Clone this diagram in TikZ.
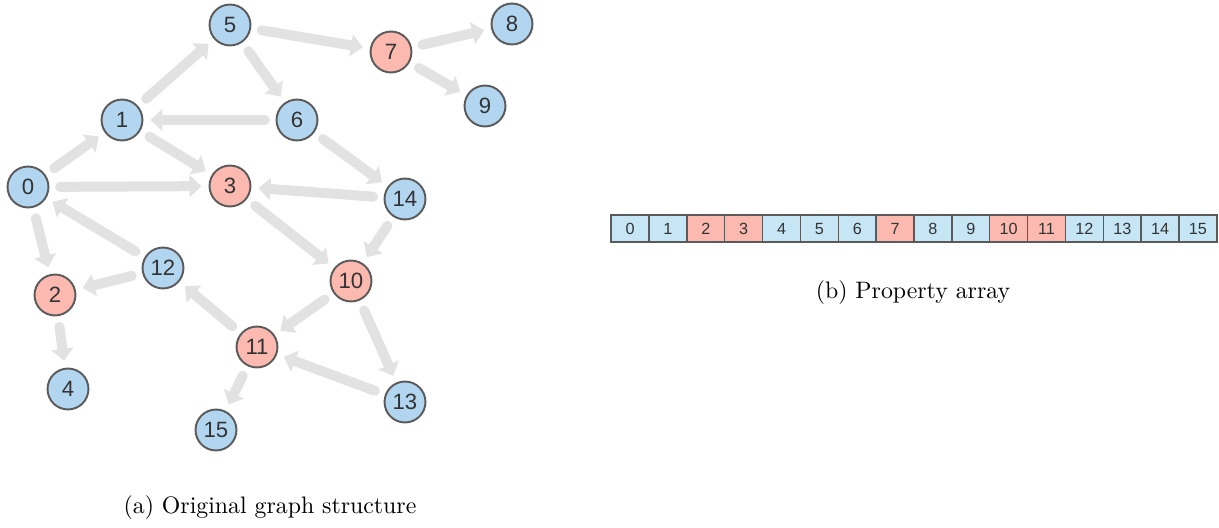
\documentclass[tikz,border=0pt]{standalone}
\usepackage{fontspec}
\newfontfamily\labfont{Liberation Sans}
\usepackage{tikz}
\usetikzlibrary{matrix,arrows.meta,positioning}
\usepackage{xcolor}
\newcommand{\vunit}{17.2pt}
\newcommand{\cellw}{15.9pt}
\tikzset{
    vbsty/.style={draw=rimgray,line width=0.8pt,fill=nodeblue,circle,minimum size=\vunit,inner sep=0pt,text height=6.6pt,text depth=0pt,text=black!80,font=\labfont\fontsize{9.3}{10}\selectfont},
    vrsty/.style={vbsty,fill=nodered},
    cbsty/.style={draw=rimgray,line width=0.6pt,fill=cellblue,rectangle,minimum width=\cellw,minimum height=11.3pt,inner sep=0pt,text height=4.9pt,text depth=0pt,anchor=center,text=black!80,font=\labfont\fontsize{6.8}{7}\selectfont},
    crsty/.style={cbsty,fill=nodered},
    edgesty/.style={draw=edgegray,line width=4.2pt,line cap=round,-{Triangle[length=5pt,width=9.5pt,line width=0pt]},shorten <=4.5pt,shorten >=3pt},
    capsty/.style={font=\normalsize},
}
\definecolor{nodeblue}{HTML}{B3D6F0}
\definecolor{nodered}{HTML}{FBB9AF}
\definecolor{cellblue}{HTML}{C6E6F6}
\definecolor{edgegray}{HTML}{E2E2E2}
\definecolor{rimgray}{HTML}{5A5A5A}

\begin{document}
\begin{tikzpicture}[x=0.42pt,y=-0.42pt]
  \useasboundingbox (0,0) rectangle (1219,528);

  % graph
  \node[vbsty] (n0)  at (28,187)  {0};
  \node[vbsty] (n1)  at (122,120) {1};
  \node[vrsty] (n2)  at (55,295)  {2};
  \node[vrsty] (n3)  at (230,186) {3};
  \node[vbsty] (n4)  at (68,389)  {4};
  \node[vbsty] (n5)  at (230,25)  {5};
  \node[vbsty] (n6)  at (297,120) {6};
  \node[vrsty] (n7)  at (391,52)  {7};
  \node[vbsty] (n8)  at (512,24)  {8};
  \node[vbsty] (n9)  at (485,106) {9};
  \node[vrsty] (n10) at (351,281) {10};
  \node[vrsty] (n11) at (257,347) {11};
  \node[vbsty] (n12) at (163,268) {12};
  \node[vbsty] (n13) at (405,402) {13};
  \node[vbsty] (n14) at (405,199) {14};
  \node[vbsty] (n15) at (216,430) {15};

  \foreach \s/\t in {n0/n1,n0/n3,n0/n2,n12/n0,n1/n5,n1/n3,n6/n1,n5/n7,n5/n6,n7/n8,n7/n9,
                     n6/n14,n14/n3,n14/n10,n3/n10,n12/n2,n2/n4,n10/n11,n10/n13,n11/n12,n11/n15,n13/n11}
    \draw[edgesty] (\s) -- (\t);

  \node[capsty] (capa) at (270,508) {(a) Original graph structure};

  % property array
  \matrix (P) [matrix of nodes,
              nodes = {cbsty},
              column sep=-0.6pt,
              inner sep=0pt,
              anchor=west,
              ampersand replacement=\&] at (610,228.5)
  {
  0 \& 1 \& |[crsty]|2 \& |[crsty]|3 \& 4 \& 5 \& 6 \& |[crsty]|7 \& 8 \& 9 \& |[crsty]|10 \& |[crsty]|11 \& 12 \& 13 \& 14 \& 15 \\
  };

  \node[capsty] (capb) at (913,293) {(b) Property array};
\end{tikzpicture}
\end{document}
